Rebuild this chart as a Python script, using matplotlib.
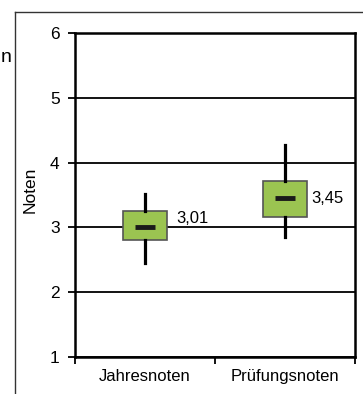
import matplotlib
matplotlib.use("Agg")
import matplotlib.pyplot as plt
from matplotlib.lines import Line2D

plt.rcParams['font.family'] = ['Liberation Sans', 'DejaVu Sans']

categories = ["Jahresnoten", "Prüfungsnoten"]
q1 = [2.81, 3.16]
q3 = [3.25, 3.72]
medians = [3.01, 3.45]
whisker_low = [2.45, 2.85]
whisker_high = [3.52, 4.27]
yticks = [1, 2, 3, 4, 5, 6]
# label offsets (pixels) from the right box edge / median
label_offsets = [(9, 8), (4, 0)]

W, H = 363, 394
fig = plt.figure(figsize=(W / 100, H / 100), dpi=100)
ax = fig.add_axes([75 / W, 1 - 357 / H, (355 - 75) / W, (357 - 33) / H])

positions = list(range(len(categories)))
box_w = 0.32
stats = []
for i in positions:
    stats.append(dict(med=medians[i], q1=q1[i], q3=q3[i],
                      whislo=whisker_low[i], whishi=whisker_high[i], fliers=[]))

ax.set_ylim(1, 6)
ax.set_xlim(-0.5, len(categories) - 0.5)
for y in yticks:
    ax.axhline(y, color="black", lw=1.3, zorder=1)

ax.bxp(stats, positions=positions, widths=box_w, showcaps=False, showfliers=False,
       patch_artist=True,
       boxprops=dict(facecolor="#9BC451", edgecolor="#555555", linewidth=1.2),
       whiskerprops=dict(color="black", linewidth=2.3),
       medianprops=dict(linewidth=0), zorder=3)

ax.hlines(medians, [p - 0.07 for p in positions], [p + 0.07 for p in positions],
          colors="#1a1a1a", linewidth=3.5, zorder=4)

for p, m, (dx, dy) in zip(positions, medians, label_offsets):
    ax.annotate(f"{m:.2f}".replace(".", ","), xy=(p + box_w / 2, m),
                xytext=(dx * 0.72, dy * 0.72), textcoords="offset points",
                fontsize=12, va="center", ha="left", zorder=5)

ax.set_yticks(yticks)
ax.set_yticklabels([str(y) for y in yticks], fontsize=12.5)
ax.set_xticks([-0.5, 0.5, 1.5])
ax.set_xticklabels([])
ax.set_xticks(positions, minor=True)
ax.set_xticklabels(categories, minor=True, fontsize=12)
ax.tick_params(axis="x", which="minor", length=0, pad=8.5)
ax.tick_params(axis="x", which="major", length=5, width=1.3, direction="out")
ax.tick_params(axis="y", length=5, width=1.3, direction="out", pad=6)
for s in ax.spines.values():
    s.set_linewidth(1.8)
    s.set_color("black")
ax.set_ylabel("Noten", fontsize=12.5)
ax.yaxis.set_label_coords(-0.135, 0.515)

# outer chart frame (partially visible)
fig.add_artist(Line2D([15 / W, 15 / W], [0, 1 - 12 / H], color="#333333", lw=1, transform=fig.transFigure))
fig.add_artist(Line2D([15 / W, 1], [1 - 12 / H, 1 - 12 / H], color="#333333", lw=1, transform=fig.transFigure))
fig.text(12 / W, 1 - 58 / H, "n", fontsize=14, ha="right", va="center")

fig.savefig("out.png", dpi=100)
